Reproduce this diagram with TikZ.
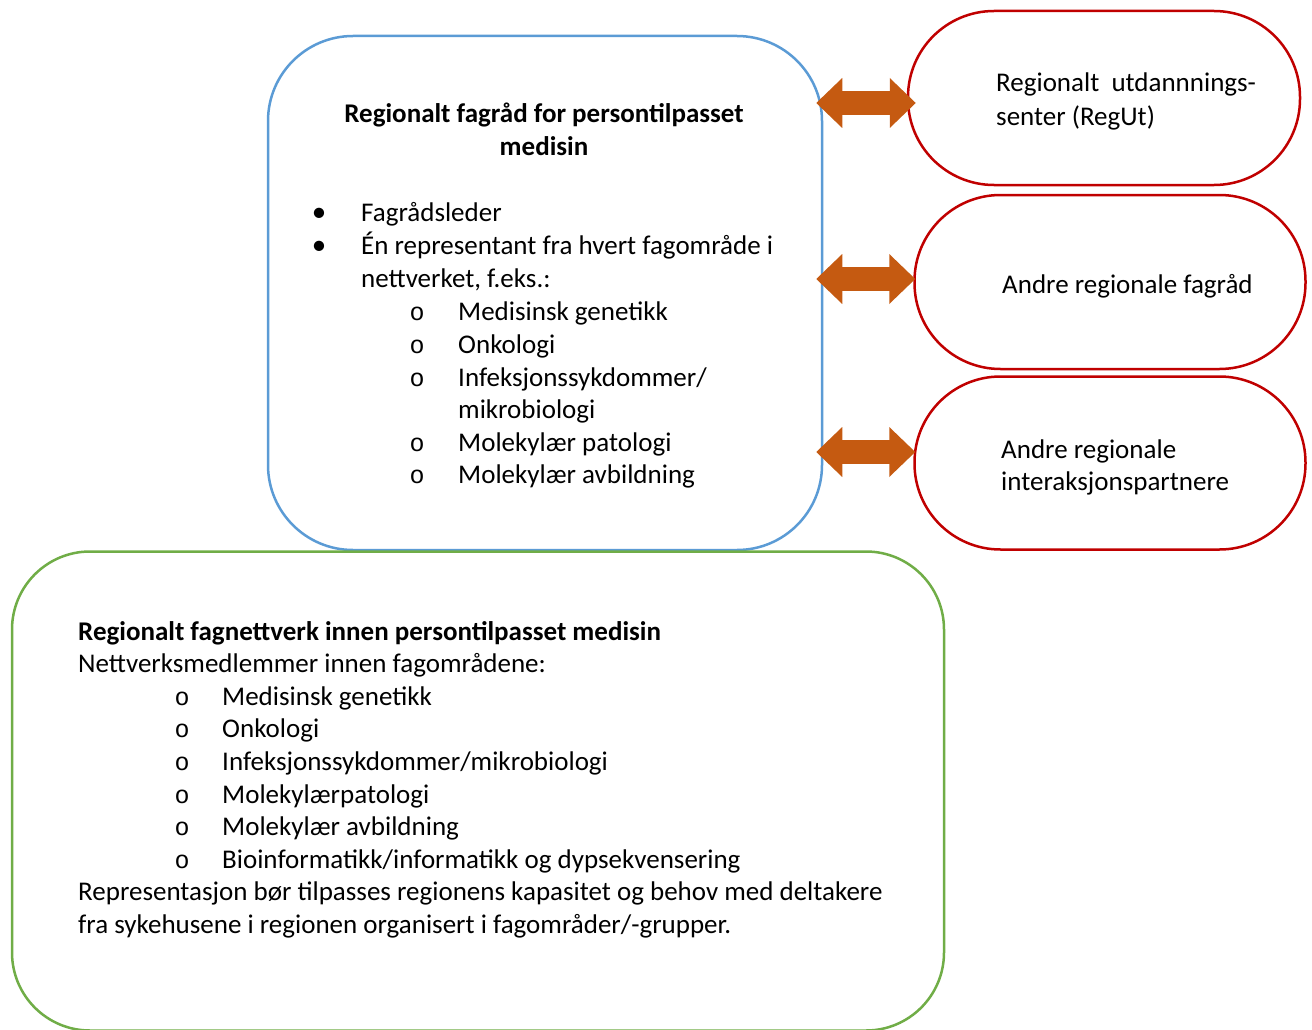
\documentclass[tikz,border=0pt]{standalone}
\usepackage{fontspec}
\setmainfont{Carlito}
\newfontfamily\ringfont{Liberation Mono}
\usetikzlibrary{arrows.meta}

\definecolor{fagblue}{HTML}{5B9BD5}
\definecolor{partred}{HTML}{C00000}
\definecolor{nettgreen}{HTML}{70AD47}
\definecolor{linkorange}{HTML}{C55A11}

\tikzset{
  box/.style={line width=2.5pt, inner sep=0pt},
  txt/.style={anchor=base west, inner sep=0pt, font=\fontsize{27}{33}\selectfont},
  head/.style={txt, anchor=base, font=\fontsize{27}{33}\selectfont\bfseries},
  dotmark/.style={anchor=base, inner sep=0pt, font=\fontsize{29}{33}\selectfont},
  ring/.style={anchor=base, inner sep=0pt, font=\fontsize{25}{33}\ringfont},
  link/.style={linkorange, line width=24pt, line cap=rect, shorten <=-7pt,
    {Triangle[length=26pt,width=50pt,line width=0pt]}-{Triangle[length=26pt,width=50pt,line width=0pt]}}
}

\begin{document}
\begin{tikzpicture}[x=1pt,y=-1pt]
\useasboundingbox (0,0) rectangle (1312,1030);

% boxes
\node[box, draw=fagblue, rounded corners=85pt, minimum width=554pt, minimum height=514pt] (fagrad) at (545,293) {};
\node[box, draw=partred, rounded corners=86pt, minimum width=392pt, minimum height=174pt] (regut) at (1104,98) {};
\node[box, draw=partred, rounded corners=86pt, minimum width=391pt, minimum height=174pt] (andrefag) at (1110,282) {};
\node[box, draw=partred, rounded corners=86pt, minimum width=391pt, minimum height=173pt] (andreint) at (1110,463) {};
\node[box, draw=nettgreen, rounded corners=78pt, minimum width=932pt, minimum height=479pt] (nettverk) at (478,791) {};

% arrows between fagraad and partners
\draw[link, shorten >=-9pt] ([yshift=-5pt]fagrad.east |- regut.west) -- ([yshift=-5pt]regut.west);
\draw[link, shorten >=-2pt] ([yshift=3pt]fagrad.east |- andrefag.west) -- ([yshift=3pt]andrefag.west);
\draw[link, shorten >=-2pt] ([yshift=11pt]fagrad.east |- andreint.west) -- ([yshift=11pt]andreint.west);

% fagraad text
\node[head] (ftitle1) at (544,123) {Regionalt fagråd for persontilpasset};
\node[head] (ftitle2) at (544,156) {medisin};
\node[dotmark] (fdot-1) at (319,221) {•};
\node[dotmark] (fdot-2) at (319,254) {•};
\node[txt] (fbul-1) at (361,221) {Fagrådsleder};
\node[txt] (fbul-2) at (361,254) {Én representant fra hvert fagområde i};
\node[txt] (fbul-3) at (361,287) {nettverket, f.eks.:};
\foreach \y/\txt [count=\i] in {320/{Medisinsk genetikk}, 353/{Onkologi}, 386/{Infeksjonssykdommer/}, 451/{Molekylær patologi}, 483/{Molekylær avbildning}}{
  \node[ring] (fring-\i) at (417,\y) {o};
  \node[txt] (fsub-\i) at (458,\y) {\txt};
}
\node[txt] (fsub-cont) at (458,418) {mikrobiologi};

% partner text
\node[txt] (regut1) at (996,92) {Regionalt~ utdannnings-};
\node[txt] (regut2) at (996,126) {senter (RegUt)};
\node[txt] (andrefag1) at (1002,293) {Andre regionale fagråd};
\node[txt] (andreint1) at (1001,458) {Andre regionale};
\node[txt] (andreint2) at (1001,490) {interaksjonspartnere};

% nettverk text
\node[txt, font=\fontsize{27}{33}\selectfont\bfseries] (ntitle) at (78,640) {Regionalt fagnettverk innen persontilpasset medisin};
\node[txt] (nintro) at (78,672) {Nettverksmedlemmer innen fagområdene:};
\foreach \y/\txt [count=\i] in {705/{Medisinsk genetikk}, 737/{Onkologi}, 770/{Infeksjonssykdommer/mikrobiologi}, 803/{Molekylærpatologi}, 835/{Molekylær avbildning}, 868/{Bioinformatikk/informatikk og dypsekvensering}}{
  \node[ring] (nring-\i) at (182,\y) {o};
  \node[txt] (nsub-\i) at (222,\y) {\txt};
}
\node[txt] (nend1) at (78,900) {Representasjon bør tilpasses regionens kapasitet og behov med deltakere};
\node[txt] (nend2) at (78,933) {fra sykehusene i regionen organisert i fagområder/-grupper.};

\end{tikzpicture}
\end{document}
